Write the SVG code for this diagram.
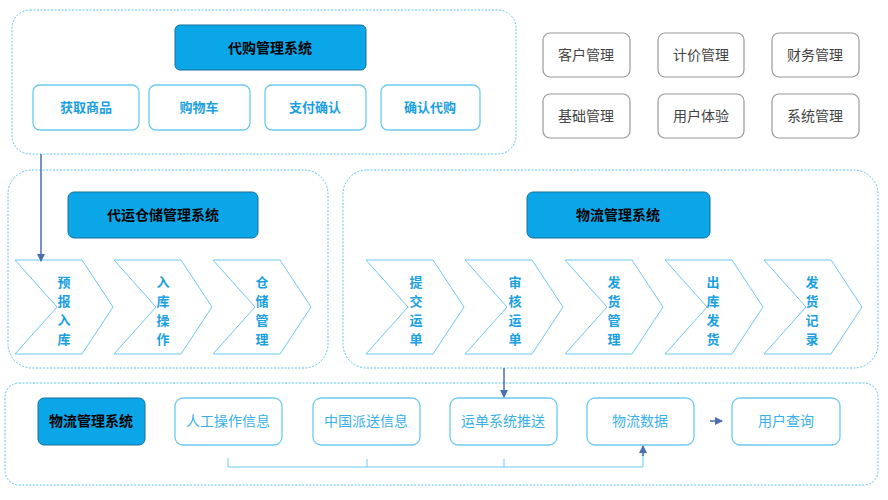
<svg xmlns="http://www.w3.org/2000/svg" width="888" height="500" viewBox="0 0 888 500">
<style>
.c{fill:#fff;stroke:#5bc4ee;stroke-dasharray:2 1.5;stroke-width:1}
.t{fill:#0aa6e8;stroke:#1a6f98;stroke-width:1}
.tt{font-family:"Noto Sans CJK SC",sans-serif;font-weight:bold;font-size:14px;fill:#000;text-anchor:middle}
.s{fill:#fff;stroke:#6dc9ef;stroke-width:1.3}
.st{font-family:"Noto Sans CJK SC",sans-serif;font-weight:bold;font-size:13px;fill:#1aa0e0;text-anchor:middle}
.g{fill:#fff;stroke:#999;stroke-width:1.2}
.gt{font-family:"Noto Sans CJK SC",sans-serif;font-size:14px;fill:#444;text-anchor:middle}
.ch{fill:#fff;stroke:#6dc9ef;stroke-width:1}
.ct{font-family:"Noto Sans CJK SC",sans-serif;font-weight:bold;font-size:13px;fill:#1aa0e0;text-anchor:middle}
.bt{font-family:"Noto Sans CJK SC",sans-serif;font-size:14px;fill:#3ab0e8;text-anchor:middle}
.ln{stroke:#4a6fb0;stroke-width:1.5;fill:none}
.br{stroke:#6dc9ef;stroke-width:1;fill:none}
</style>
<defs>
<marker id="a" markerWidth="8" markerHeight="8" refX="7" refY="4" orient="auto" markerUnits="userSpaceOnUse"><path d="M0,0 L8,4 L0,8 Z" fill="#4a6fb0"/></marker>
<polygon id="chev" points="0,0 67,0 98,47 67,94 0,94 42,47"/>
</defs>
<rect width="888" height="500" fill="#fff"/>
<g id="top">
<rect class="c" x="12" y="10" width="504" height="144" rx="18"/>
<rect class="t" x="175" y="25" width="191" height="45" rx="5"/><text class="tt" x="270" y="53">代购管理系统</text>
<rect class="s" x="33" y="85" width="106" height="45" rx="7"/><text class="st" x="86" y="112">获取商品</text>
<rect class="s" x="149" y="85" width="101" height="45" rx="7"/><text class="st" x="199" y="112">购物车</text>
<rect class="s" x="265" y="85" width="101" height="45" rx="7"/><text class="st" x="315" y="112">支付确认</text>
<rect class="s" x="381" y="85" width="99" height="45" rx="7"/><text class="st" x="430" y="112">确认代购</text>
</g>
<g id="grid">
<rect class="g" x="543" y="33" width="87" height="44" rx="7"/><text class="gt" x="586" y="60">客户管理</text>
<rect class="g" x="658" y="33" width="86" height="44" rx="7"/><text class="gt" x="701" y="60">计价管理</text>
<rect class="g" x="772" y="33" width="87" height="44" rx="7"/><text class="gt" x="815" y="60">财务管理</text>
<rect class="g" x="543" y="94" width="87" height="44" rx="7"/><text class="gt" x="586" y="121">基础管理</text>
<rect class="g" x="658" y="94" width="86" height="44" rx="7"/><text class="gt" x="701" y="121">用户体验</text>
<rect class="g" x="772" y="94" width="87" height="44" rx="7"/><text class="gt" x="815" y="121">系统管理</text>
</g>
<g id="warehouse">
<rect class="c" x="8" y="170" width="320" height="198" rx="24"/>
<rect class="t" x="68" y="192" width="190" height="46" rx="6"/><text class="tt" x="163" y="220">代运仓储管理系统</text>
<use href="#chev" class="ch" x="15" y="260"/><text class="ct"><tspan x="64" y="287">预</tspan><tspan x="64" y="306">报</tspan><tspan x="64" y="325">入</tspan><tspan x="64" y="344">库</tspan></text>
<use href="#chev" class="ch" x="114" y="260"/><text class="ct"><tspan x="163" y="287">入</tspan><tspan x="163" y="306">库</tspan><tspan x="163" y="325">操</tspan><tspan x="163" y="344">作</tspan></text>
<use href="#chev" class="ch" x="213" y="260"/><text class="ct"><tspan x="262" y="287">仓</tspan><tspan x="262" y="306">储</tspan><tspan x="262" y="325">管</tspan><tspan x="262" y="344">理</tspan></text>
</g>
<g id="logistics">
<rect class="c" x="343" y="170" width="535" height="198" rx="24"/>
<rect class="t" x="527" y="192" width="183" height="46" rx="6"/><text class="tt" x="618" y="220">物流管理系统</text>
<use href="#chev" class="ch" x="366" y="260"/><text class="ct"><tspan x="416" y="287">提</tspan><tspan x="416" y="306">交</tspan><tspan x="416" y="325">运</tspan><tspan x="416" y="344">单</tspan></text>
<use href="#chev" class="ch" x="465" y="260"/><text class="ct"><tspan x="515" y="287">审</tspan><tspan x="515" y="306">核</tspan><tspan x="515" y="325">运</tspan><tspan x="515" y="344">单</tspan></text>
<use href="#chev" class="ch" x="565" y="260"/><text class="ct"><tspan x="614" y="287">发</tspan><tspan x="614" y="306">货</tspan><tspan x="614" y="325">管</tspan><tspan x="614" y="344">理</tspan></text>
<use href="#chev" class="ch" x="665" y="260"/><text class="ct"><tspan x="713" y="287">出</tspan><tspan x="713" y="306">库</tspan><tspan x="713" y="325">发</tspan><tspan x="713" y="344">货</tspan></text>
<use href="#chev" class="ch" x="764" y="260"/><text class="ct"><tspan x="812" y="287">发</tspan><tspan x="812" y="306">货</tspan><tspan x="812" y="325">记</tspan><tspan x="812" y="344">录</tspan></text>
</g>
<g id="bottom">
<rect class="c" x="5" y="383" width="873" height="102" rx="14"/>
<rect class="t" x="38" y="398" width="107" height="47" rx="6"/><text class="tt" x="91" y="426" font-size="13">物流管理系统</text>
<rect class="s" x="175" y="398" width="107" height="47" rx="8"/><text class="bt" x="228" y="426">人工操作信息</text>
<rect class="s" x="313" y="398" width="107" height="47" rx="8"/><text class="bt" x="366" y="426">中国派送信息</text>
<rect class="s" x="450" y="398" width="107" height="47" rx="8"/><text class="bt" x="503" y="426">运单系统推送</text>
<rect class="s" x="587" y="398" width="107" height="47" rx="8"/><text class="bt" x="640" y="426">物流数据</text>
<rect class="s" x="732" y="398" width="108" height="47" rx="8"/><text class="bt" x="786" y="426">用户查询</text>
</g>
<g id="connectors">
<line class="ln" x1="41" y1="154" x2="41" y2="261" marker-end="url(#a)"/>
<line class="ln" x1="504" y1="368" x2="504" y2="397" marker-end="url(#a)"/>
<line class="ln" x1="710" y1="421" x2="722" y2="421" marker-end="url(#a)"/>
<path class="br" d="M228,458 V467 H643 V450"/>
<line class="br" x1="367" y1="459" x2="367" y2="467"/>
<line class="br" x1="504" y1="459" x2="504" y2="467"/>
<line class="ln" x1="643" y1="456" x2="643" y2="446" marker-end="url(#a)"/>
</g>
</svg>
